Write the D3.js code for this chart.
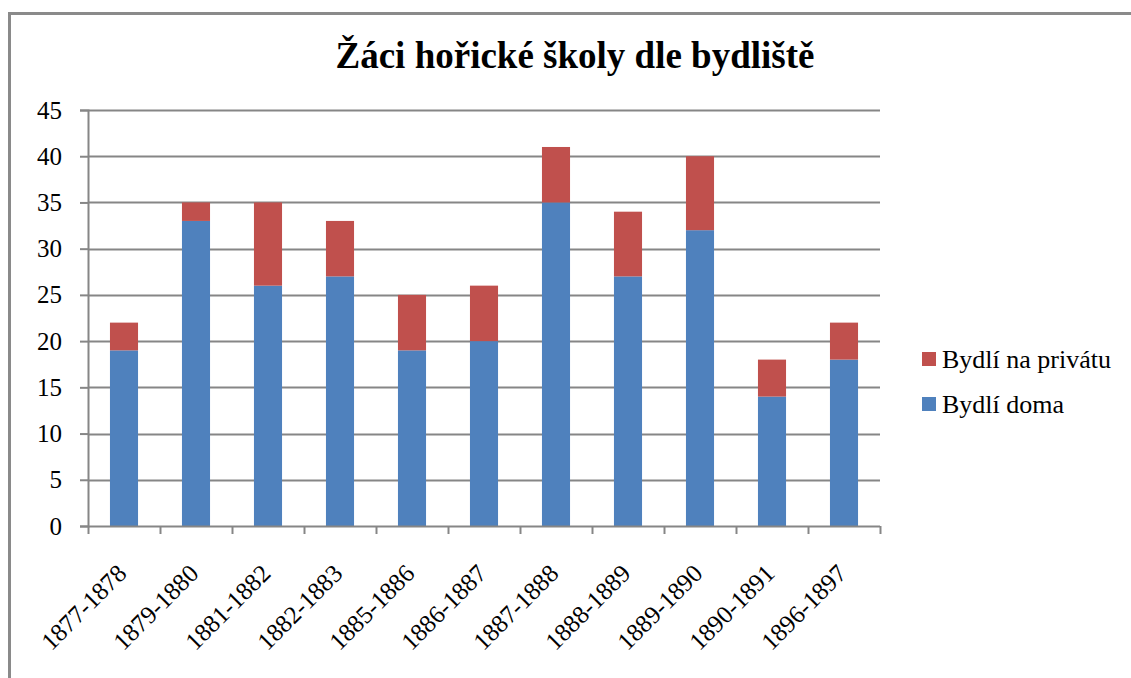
<!DOCTYPE html>
<html>
<head>
<meta charset="utf-8">
<script src="https://cdnjs.cloudflare.com/ajax/libs/d3/7.8.5/d3.min.js"></script>
<style>
  body { margin: 0; background: #fff; }
</style>
</head>
<body>
<svg></svg>
<script>
'use strict';

// data
var categories = ['1877-1878', '1879-1880', '1881-1882', '1882-1883', '1885-1886',
    '1886-1887', '1887-1888', '1888-1889', '1889-1890', '1890-1891', '1896-1897'];
var doma = [19, 33, 26, 27, 19, 20, 35, 27, 32, 14, 18];
var privat = [3, 2, 9, 6, 6, 6, 6, 7, 8, 4, 4];
var seriesNames = ['Bydlí doma', 'Bydlí na privátu'];
var seriesColors = ['#4f81bd', '#c0504d'];
var yTicks = [0, 5, 10, 15, 20, 25, 30, 35, 40, 45];

var serif = "'Liberation Serif', 'DejaVu Serif', serif";

var canvasWidth = 1131;
var canvasHeight = 678;
var margin = { top: 110, right: 251, bottom: 152, left: 88 };
var width = canvasWidth - margin.left - margin.right;
var height = canvasHeight - margin.top - margin.bottom;

var svg = d3.select('svg')
    .attr('width', canvasWidth)
    .attr('height', canvasHeight)
    .attr('font-family', serif);

// outer frame
svg.append('rect')
    .attr('x', 9.5).attr('y', 13.5)
    .attr('width', 1140).attr('height', 700)
    .attr('fill', 'none')
    .attr('stroke', '#8a8a8a')
    .attr('stroke-width', 3);

svg.append('text')
    .attr('x', 575).attr('y', 68)
    .attr('text-anchor', 'middle')
    .style('font-family', serif)
    .style('font-size', '37px')
    .style('font-weight', 'bold')
    .text('Žáci hořické školy dle bydliště');

var g = svg.append('g')
    .attr('transform', 'translate(' + margin.left + ',' + margin.top + ')');

var xScale = d3.scaleBand()
    .domain(categories)
    .range([0, width])
    .paddingInner(0.61)
    .paddingOuter(0.305);

var yScale = d3.scaleLinear()
    .domain([0, 45])
    .range([height, 0]);

// gridlines
g.selectAll('.grid')
    .data(yTicks.slice(1))
    .enter().append('line')
    .attr('class', 'grid')
    .attr('x1', 0).attr('x2', width)
    .attr('y1', function (d) { return Math.round(yScale(d)) + 0.5; })
    .attr('y2', function (d) { return Math.round(yScale(d)) + 0.5; })
    .attr('stroke', '#868686')
    .attr('stroke-width', 2);

// stacked bars
var table = categories.map(function (c, i) {
    return { cat: c, doma: doma[i], privat: privat[i] };
});
var stack = d3.stack().keys(['doma', 'privat'])(table);

g.selectAll('.layer')
    .data(stack)
    .enter().append('g')
    .attr('class', 'layer')
    .attr('fill', function (d, i) { return seriesColors[i]; })
    .selectAll('rect')
    .data(function (d) { return d; })
    .enter().append('rect')
    .attr('x', function (d) { return xScale(d.data.cat); })
    .attr('width', xScale.bandwidth())
    .attr('y', function (d) { return yScale(d[1]); })
    .attr('height', function (d) { return yScale(d[0]) - yScale(d[1]); });

// y axis
var yAxis = g.append('g')
    .call(d3.axisLeft(yScale).tickValues(yTicks).tickSize(8).tickPadding(18));
yAxis.attr('font-family', serif).attr('font-size', null);
yAxis.select('.domain').attr('stroke', '#868686').attr('stroke-width', 2);
yAxis.selectAll('.tick line').attr('stroke', '#868686').attr('stroke-width', 2);
yAxis.selectAll('.tick text')
    .style('font-family', serif)
    .style('font-size', '25px')
    .attr('fill', '#000');

// x axis with boundary ticks
var xAxisG = g.append('g').attr('transform', 'translate(0,' + height + ')');
xAxisG.append('line')
    .attr('x1', 0).attr('x2', width)
    .attr('y1', 0.5).attr('y2', 0.5)
    .attr('stroke', '#868686').attr('stroke-width', 2);
var bounds = d3.range(categories.length + 1);
xAxisG.selectAll('.xtick')
    .data(bounds)
    .enter().append('line')
    .attr('x1', function (d) { return Math.round(d * xScale.step()) + 0.5; })
    .attr('x2', function (d) { return Math.round(d * xScale.step()) + 0.5; })
    .attr('y1', 0).attr('y2', 8)
    .attr('stroke', '#868686').attr('stroke-width', 2);

xAxisG.selectAll('.xlabel')
    .data(categories)
    .enter().append('text')
    .attr('text-anchor', 'end')
    .style('font-family', serif)
    .style('font-size', '25px')
    .attr('transform', function (d) {
        var cx = xScale(d) + xScale.bandwidth() / 2 + 4;
        return 'translate(' + cx + ',49) rotate(-45)';
    })
    .text(function (d) { return d; });

// legend
var legend = svg.append('g').attr('transform', 'translate(922,352)');
var legendItems = [
    { name: seriesNames[1], color: seriesColors[1] },
    { name: seriesNames[0], color: seriesColors[0] }
];
var li = legend.selectAll('.li')
    .data(legendItems)
    .enter().append('g')
    .attr('transform', function (d, i) { return 'translate(0,' + (i * 45) + ')'; });
li.append('rect')
    .attr('x', 0).attr('y', 0)
    .attr('width', 14).attr('height', 14)
    .attr('fill', function (d) { return d.color; });
li.append('text')
    .attr('x', 20).attr('y', 16)
    .style('font-family', serif)
    .style('font-size', '26px')
    .text(function (d) { return d.name; });
</script>
</body>
</html>
